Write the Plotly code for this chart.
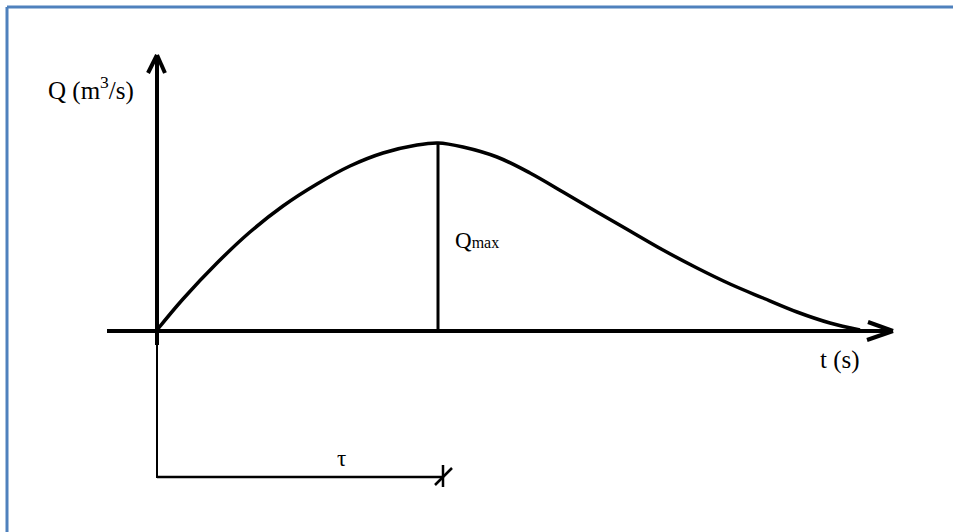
import plotly.graph_objs as go

# hydrograph (arbitrary units)
t_rise = [0, 26, 60, 93, 126, 160, 193, 226, 260, 281]
q_rise = [0, 31, 67, 98, 124, 146, 164, 177, 185, 187]
t_fall = [306, 340, 373, 406, 440, 473, 506, 540, 573, 606, 640, 673, 703]
q_fall = [183, 173, 157, 138, 118, 99, 80, 62, 46, 32, 18, 7, 0]

t = t_rise + t_fall
q = q_rise + q_fall

t_peak = 281
q_peak = 187
tau = 286

W, H = 953, 532
X0, Y0 = 157, 330  # where t=0, Q=0 sits on the page
SERIF = "Liberation Serif, Times New Roman, serif"

fig = go.Figure()

# hydrograph curve
fig.add_trace(go.Scatter(
    x=t, y=q,
    mode='lines',
    line=dict(color='black', width=3.5, shape='spline', smoothing=1),
    hoverinfo='skip',
    showlegend=False))

# Qmax line
fig.add_trace(go.Scatter(
    x=[t_peak, t_peak], y=[0, q_peak],
    mode='lines',
    line=dict(color='black', width=3),
    hoverinfo='skip',
    showlegend=False))

shapes = []


def seg(x0, y0, x1, y1, w):
    shapes.append(dict(type='line', x0=x0, y0=y0, x1=x1, y1=y1,
                       xref='x', yref='y', layer='above',
                       line=dict(color='black', width=w)))


# t axis with arrow
seg(-50, -1, 736, -1, 4)
seg(711, 8, 736, -1, 4)
seg(710, -10, 736, -1, 4)

# Q axis with arrow
seg(0, -15, 0, 275, 4)
seg(-9, 257, 0, 275, 4)
seg(8, 257, 0, 275, 4)

# tau bracket
seg(0, -15, 0, -148, 2)
seg(0, -147, tau, -147, 2.5)
seg(tau, -135, tau, -157, 2.5)
seg(tau - 8, -155, tau + 9, -138, 2.5)

# frame (top and left only)
frame = dict(color='#4f81bd', width=3)
shapes.append(dict(type='line', xref='paper', yref='paper',
                   x0=7 / W, x1=1, y0=1 - 7 / H, y1=1 - 7 / H, line=frame))
shapes.append(dict(type='line', xref='paper', yref='paper',
                   x0=7 / W, x1=7 / W, y0=0, y1=1 - 7 / H, line=frame))

annotations = [
    dict(x=-66, y=242, text="Q (m<sup>3</sup>/s)",
         font=dict(size=25)),
    dict(x=296, y=90, xanchor='left',
         text="Q<span style='font-size:16px'>max</span>",
         font=dict(size=23)),
    dict(x=683, y=-30, text="t (s)", font=dict(size=25)),
    dict(x=184, y=-128, text="τ", font=dict(size=23)),
]
for a in annotations:
    a.update(xref='x', yref='y', showarrow=False)
    a['font'].update(family=SERIF, color='black')

fig.update_layout(
    width=W, height=H,
    margin=dict(l=0, r=0, t=0, b=0),
    paper_bgcolor='white',
    plot_bgcolor='white',
    shapes=shapes,
    annotations=annotations,
    xaxis=dict(range=[-X0, W - X0], visible=False, fixedrange=True),
    yaxis=dict(range=[Y0 - H, Y0], visible=False, fixedrange=True),
)

fig.write_html("out.html", config=dict(displayModeBar=False),
               post_script="document.body.style.margin='0';")
